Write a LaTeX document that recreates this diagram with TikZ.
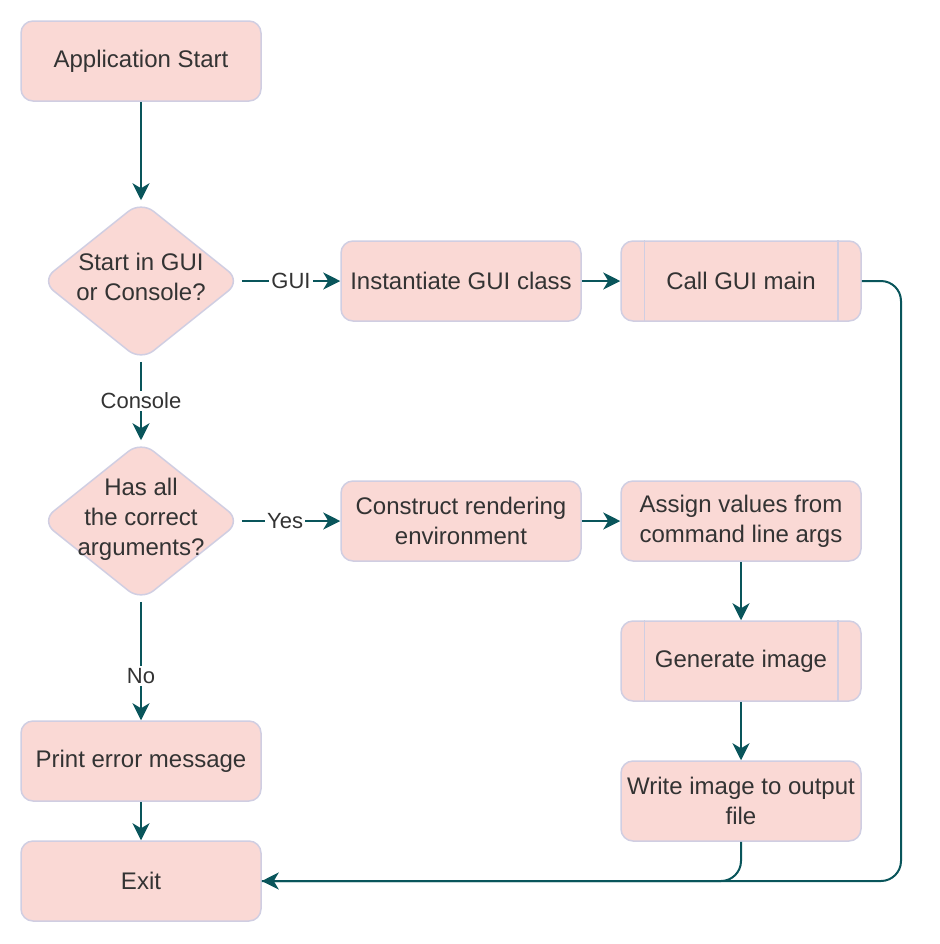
\documentclass[tikz,border=0pt]{standalone}
\usepackage{fontspec}
\setmainfont{Liberation Sans}
\usetikzlibrary{shapes.geometric,arrows.meta}
\definecolor{boxfill}{HTML}{FAD9D5}
\definecolor{boxline}{HTML}{D0CEE2}
\definecolor{edgecol}{HTML}{09555B}
\definecolor{txtcol}{HTML}{333333}
\begin{document}
\begin{tikzpicture}[x=0.5pt,y=-0.5pt,
  box/.style={draw=boxline, fill=boxfill, line width=0.75pt, rounded corners=6pt,
    minimum width=120pt, minimum height=40pt, inner sep=0pt, align=center,
    text=txtcol, font=\fontsize{12}{15}\selectfont},
  dia/.style={diamond, draw=boxline, fill=boxfill, line width=0.75pt, rounded corners=8pt,
    minimum width=100pt, minimum height=80pt, inner sep=0pt},
  diatext/.style={align=center, text=txtcol, font=\fontsize{12}{15}\selectfont, inner sep=0pt},
  conn/.style={draw=edgecol, line width=1pt},
  arr/.style={conn, -{Stealth[length=8.5pt,width=8.5pt,inset=2.5pt]}},
  lbl/.style={fill=white, text=txtcol, font=\fontsize{11}{13}\selectfont, inner sep=1pt}
]
\useasboundingbox (0,0) rectangle (940,944);

\node[box] (start) at (141,61) {Application Start};
\node[dia] (d1) at (141,281) {};
\node[diatext] (d1t) at (141,277) {Start in GUI\\or Console?};
\node[box] (inst) at (461,281) {Instantiate GUI class};
\node[box] (call) at (741,281) {Call GUI main};
\draw[draw=boxline, line width=0.75pt] ([xshift=12pt]call.north west) -- ([xshift=12pt]call.south west);
\draw[draw=boxline, line width=0.75pt] ([xshift=-12pt]call.north east) -- ([xshift=-12pt]call.south east);

\node[dia] (d2) at (141,521) {};
\node[diatext] (d2t) at (141,519) {Has all\\the correct\\arguments?};
\node[box] (cons) at (461,521) {Construct rendering\\environment};
\node[box] (assign) at (741,521) {Assign values from\\command line args};
\node[box] (gen) at (741,661) {Generate image};
\draw[draw=boxline, line width=0.75pt] ([xshift=12pt]gen.north west) -- ([xshift=12pt]gen.south west);
\draw[draw=boxline, line width=0.75pt] ([xshift=-12pt]gen.north east) -- ([xshift=-12pt]gen.south east);
\node[box] (write) at (741,801) {Write image to output\\file};
\node[box] (err) at (141,761) {Print error message};
\node[box] (exit) at (141,881) {Exit};

\coordinate (rt) at (901,281);

\draw[arr] (start) -- (d1);
\draw[arr] (d1) -- node[lbl] {GUI} (inst);
\draw[arr] (inst) -- (call);
\draw[conn, rounded corners=10pt] (write.south) |- (exit.east);
\draw[arr, rounded corners=10pt] (call.east) -- (rt) |- (exit.east);
\draw[arr] (d1) -- node[lbl] {Console} (d2);
\draw[arr] (d2) -- node[lbl, pos=0.44] {Yes} (cons);
\draw[arr] (cons) -- (assign);
\draw[arr] (assign) -- (gen);
\draw[arr] (gen) -- (write);
\draw[arr] (d2) -- node[lbl, pos=0.625] {No} (err);
\draw[arr] (err) -- (exit);
\end{tikzpicture}
\end{document}
